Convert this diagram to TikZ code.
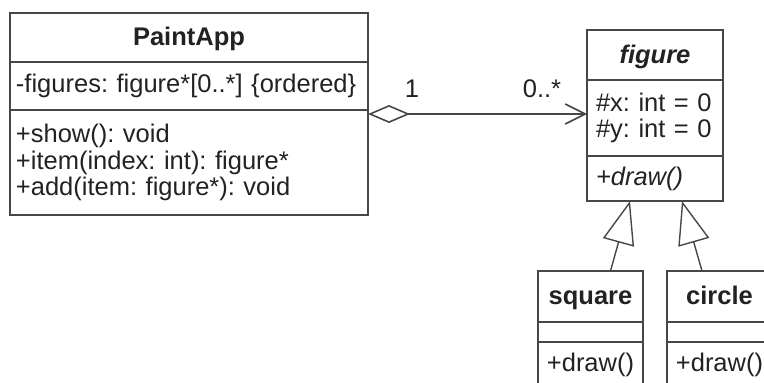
\documentclass[tikz,border=0pt]{standalone}
\usepackage{fontspec}
\setmainfont{Liberation Sans}
\usetikzlibrary{arrows.meta}

\definecolor{umlline}{HTML}{474747}
\definecolor{umltext}{HTML}{222222}
\newcommand{\umlsize}{\fontsize{25.5}{26.5}\selectfont\frenchspacing}

\tikzset{
  umlbox/.style={draw=umlline, line width=1.6pt, outer sep=0pt, inner xsep=6pt, inner ysep=0pt,
    text=umltext, font=\umlsize},
  umlname/.style={umlbox, anchor=north west, text height=18pt, text depth=2pt, font=\umlsize\bfseries},
  umlpart/.style={umlbox, anchor=north west, align=left},
  umllabel/.style={anchor=base, inner sep=0pt, text=umltext, font=\umlsize},
  aggregation/.style={draw=umlline, line width=1.6pt,
    {Diamond[open,length=42pt,width=18pt]}-{Straight Barb[length=20pt,width=20pt]}},
  generalization/.style={draw=umlline, line width=1.4pt,
    -{Triangle[open,length=43pt,width=32pt]}},
}

\begin{document}
\begin{tikzpicture}[x=1pt,y=-1pt]
    \useasboundingbox (0,0) rectangle (764,383);
    \clip (0,0) rectangle (764,383);

    % PaintApp
    \node[umlname, minimum width=358pt, minimum height=49pt] (app) at (10,13) {PaintApp};
    \node[umlpart, text width=346pt, minimum height=48pt] (app-attr) at (app.south west)
        {-figures: figure*[0..*] \{ordered\}};
    \node[umlpart, text width=346pt, minimum height=105pt] (app-ops) at (app-attr.south west)
        {+show(): void\\+item(index: int): figure*\\+add(item: figure*): void};

    % figure
    \node[umlname, minimum width=136pt, minimum height=50pt, font=\umlsize\bfseries\itshape] (fig) at (587,30) {figure};
    \node[umlpart, inner xsep=9pt, text width=118pt, minimum height=76pt] (fig-attr) at (fig.south west)
        {\#x: int = 0\\\#y: int = 0};
    \node[umlpart, inner xsep=9pt, text width=118pt, minimum height=45pt, font=\umlsize\itshape] (fig-ops) at (fig-attr.south west)
        {+draw()};

    % square
    \node[umlname, minimum width=105pt, minimum height=51pt] (sq) at (538,271) {square};
    \node[umlpart, text width=93pt, minimum height=20pt] (sq-attr) at (sq.south west) {};
    \node[umlpart, align=center, text width=93pt, minimum height=46pt] (sq-ops) at (sq-attr.south west) {+draw()};

    % circle
    \node[umlname, minimum width=105pt, minimum height=51pt] (circ) at (667,271) {circle};
    \node[umlpart, text width=93pt, minimum height=20pt] (circ-attr) at (circ.south west) {};
    \node[umlpart, align=center, text width=93pt, minimum height=46pt] (circ-ops) at (circ-attr.south west) {+draw()};

    % associations
    \draw[aggregation] ([yshift=-4pt]app-ops.north east) -- ([yshift=-4pt]app-ops.north east -| fig-attr.west);
    \node[umllabel] (mult-app) at (412,97) {1};
    \node[umllabel] (mult-fig) at (542,97) {0..*};

    \draw[generalization] ([xshift=20pt]sq.north) -- ([xshift=-25pt]fig-ops.south);
    \draw[generalization] ([xshift=-17.5pt]circ.north) -- ([xshift=27pt]fig-ops.south);
\end{tikzpicture}
\end{document}
